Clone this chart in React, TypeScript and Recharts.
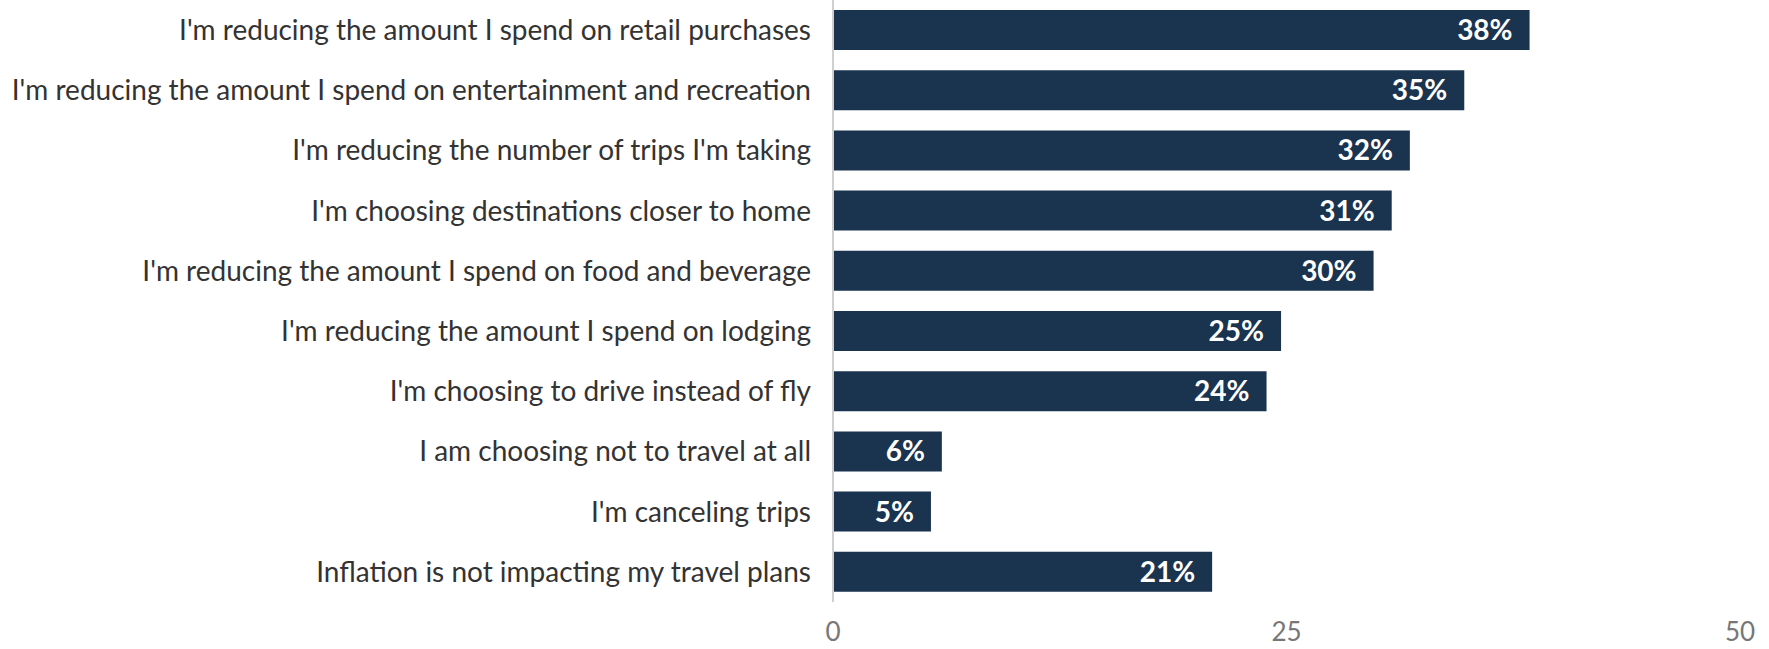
import { Bar, BarChart, LabelList, XAxis, YAxis } from 'recharts'

const categories = [
  "I'm reducing the amount I spend on retail purchases",
  "I'm reducing the amount I spend on entertainment and recreation",
  "I'm reducing the number of trips I'm taking",
  "I'm choosing destinations closer to home",
  "I'm reducing the amount I spend on food and beverage",
  "I'm reducing the amount I spend on lodging",
  "I'm choosing to drive instead of fly",
  'I am choosing not to travel at all',
  "I'm canceling trips",
  'Inflation is not impacting my travel plans',
]

// bar lengths; labels show them rounded
const shares = [38.4, 34.8, 31.8, 30.8, 29.8, 24.7, 23.9, 6.0, 5.4, 20.9]

const xTicks = [0, 25, 50]

const data = categories.map((name, i) => ({ name, value: shares[i] }))

export default function App() {
  return (
    <div style={{ position: 'absolute', left: 0, top: 0, fontFamily: 'Lato, sans-serif' }}>
      <BarChart
        width={1769}
        height={649}
        data={data}
        layout="vertical"
        margin={{ top: 0, right: 29, left: 0, bottom: 0 }}
      >
        <XAxis
          type="number"
          domain={[0, 50]}
          ticks={xTicks}
          axisLine={false}
          tickLine={false}
          height={47}
          tickMargin={15}
          tick={{ fontSize: 26, fill: '#777', fontFamily: 'Lato' }}
        />
        <YAxis
          type="category"
          dataKey="name"
          width={833}
          tickLine={false}
          axisLine={{ stroke: '#d0d0d0', strokeWidth: 2 }}
          tickMargin={16}
          interval={0}
          tick={{ fontSize: 28, fill: '#333', fontFamily: 'Lato' }}
        />
        <Bar dataKey="value" fill="#1a334f" barSize={40} isAnimationActive={false}>
          <LabelList
            dataKey="value"
            position="insideRight"
            offset={17}
            formatter={(v: number) => `${Math.round(v)}%`}
            style={{ fill: '#fff', fontSize: 28, fontWeight: 700, fontFamily: 'Lato' }}
          />
        </Bar>
      </BarChart>
    </div>
  )
}
